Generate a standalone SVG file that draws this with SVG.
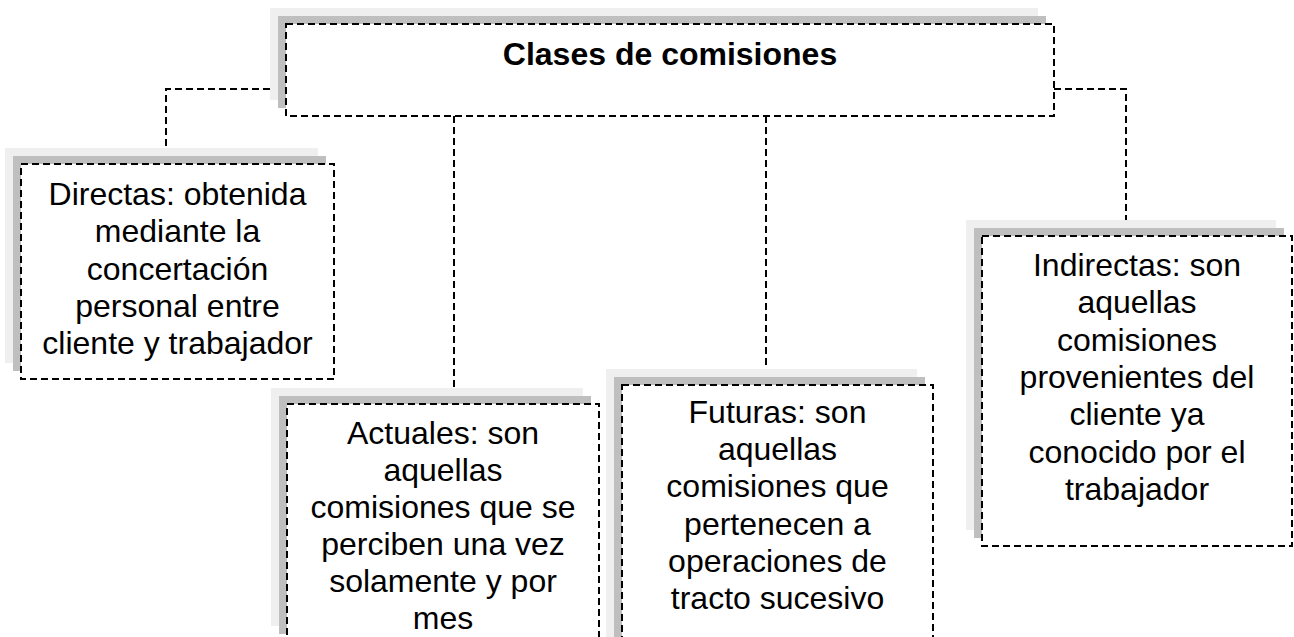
<svg xmlns="http://www.w3.org/2000/svg" width="1294" height="637" viewBox="0 0 1294 637">
<style>
.sh1{fill:#efefef}
.sh2{fill:#bfbfbf}
.box{fill:#fff;stroke:#000;stroke-width:2;stroke-dasharray:7 4}
.conn{fill:none;stroke:#000;stroke-width:2;stroke-dasharray:7 4}
text{font-family:"Liberation Sans",Arial,sans-serif;font-size:32px;fill:#000;text-anchor:middle}
.title{font-weight:bold}
</style>
<rect width="1294" height="637" fill="#fff"/>
<g id="connectors">
<polyline class="conn" points="270,89 166,89 166,164"/>
<polyline class="conn" points="1054,89 1126,89 1126,236"/>
<line class="conn" x1="454" y1="116" x2="454" y2="404"/>
<line class="conn" x1="766" y1="116" x2="766" y2="385"/>
</g>
<g id="node-clases">
<rect class="sh1" x="270" y="8" width="768" height="92"/>
<rect class="sh2" x="278" y="16" width="768" height="92"/>
<rect class="box" x="286" y="24" width="768" height="92"/>
<text class="title" x="670" y="65">Clases de comisiones</text>
</g>
<g id="node-directas">
<rect class="sh1" x="5" y="148" width="313" height="215"/>
<rect class="sh2" x="13" y="156" width="313" height="215"/>
<rect class="box" x="21" y="164" width="313" height="215"/>
<text x="177.5" y="205"><tspan x="177.5">Directas: obtenida</tspan><tspan x="177.5" dy="37.3">mediante la</tspan><tspan x="177.5" dy="37.3">concertación</tspan><tspan x="177.5" dy="37.3">personal entre</tspan><tspan x="177.5" dy="37.3">cliente y trabajador</tspan></text>
</g>
<g id="node-actuales">
<rect class="sh1" x="271" y="388" width="312" height="238"/>
<rect class="sh2" x="279" y="396" width="312" height="238"/>
<rect class="box" x="287" y="404" width="312" height="238"/>
<text x="443" y="444"><tspan x="443">Actuales: son</tspan><tspan x="443" dy="37">aquellas</tspan><tspan x="443" dy="37">comisiones que se</tspan><tspan x="443" dy="37">perciben una vez</tspan><tspan x="443" dy="37">solamente y por</tspan><tspan x="443" dy="37">mes</tspan></text>
</g>
<g id="node-futuras">
<rect class="sh1" x="606" y="369" width="311" height="280"/>
<rect class="sh2" x="614" y="377" width="311" height="280"/>
<rect class="box" x="622" y="385" width="311" height="280"/>
<text x="777.5" y="423"><tspan x="777.5">Futuras: son</tspan><tspan x="777.5" dy="37.2">aquellas</tspan><tspan x="777.5" dy="37.2">comisiones que</tspan><tspan x="777.5" dy="37.2">pertenecen a</tspan><tspan x="777.5" dy="37.2">operaciones de</tspan><tspan x="777.5" dy="37.2">tracto sucesivo</tspan></text>
</g>
<g id="node-indirectas">
<rect class="sh1" x="966" y="220" width="310" height="310"/>
<rect class="sh2" x="974" y="228" width="310" height="310"/>
<rect class="box" x="982" y="236" width="310" height="310"/>
<text x="1137" y="276"><tspan x="1137">Indirectas: son</tspan><tspan x="1137" dy="37.3">aquellas</tspan><tspan x="1137" dy="37.3">comisiones</tspan><tspan x="1137" dy="37.3">provenientes del</tspan><tspan x="1137" dy="37.3">cliente ya</tspan><tspan x="1137" dy="37.3">conocido por el</tspan><tspan x="1137" dy="37.3">trabajador</tspan></text>
</g>
</svg>
